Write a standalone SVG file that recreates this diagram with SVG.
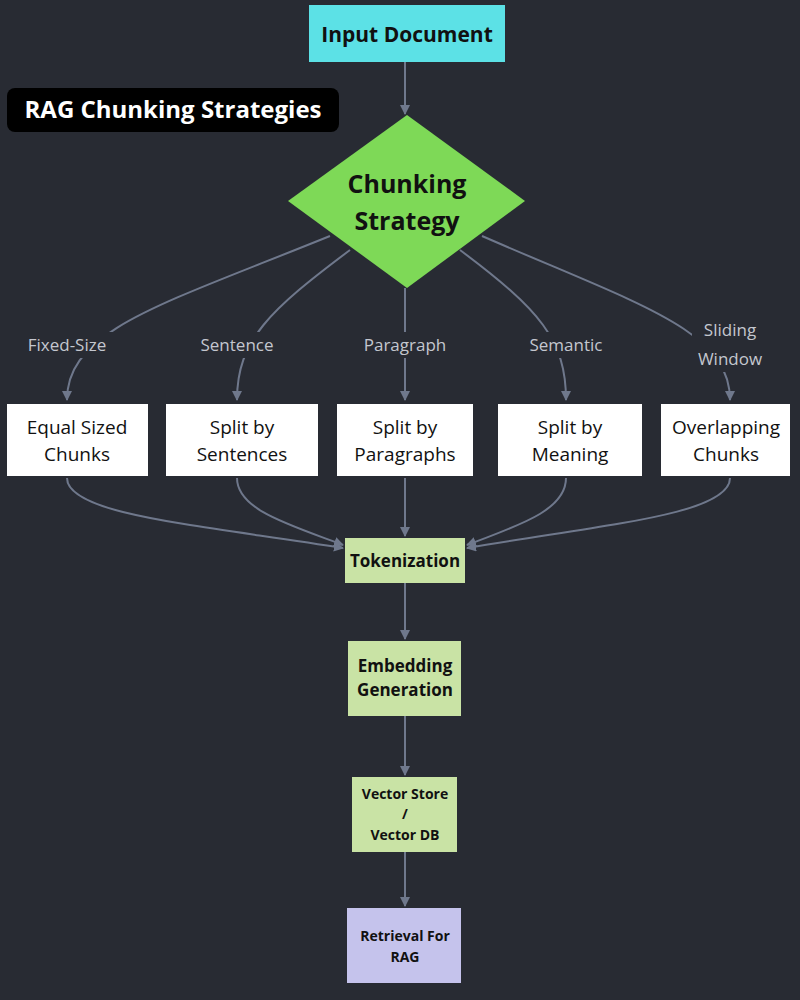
<svg xmlns="http://www.w3.org/2000/svg" width="800" height="1000" viewBox="0 0 800 1000">
<defs>
<marker id="ah" markerWidth="10" markerHeight="10" refX="9" refY="5" orient="auto" markerUnits="userSpaceOnUse" viewBox="0 0 10 10"><path d="M0,0 L10,5 L0,10 z" fill="#6f788c"/></marker>
<style>
.e{fill:none;stroke:#6f788c;stroke-width:2;marker-end:url(#ah)}
.lbl{font-family:"Open Sans","Liberation Sans",sans-serif;font-size:17px;fill:#c4c7cf;text-anchor:middle}
.lb{fill:#282b33}
.wb{fill:#ffffff}
.wt{font-family:"Open Sans","Liberation Sans",sans-serif;font-size:19px;fill:#111;text-anchor:middle}
.bt{font-family:"Open Sans","Liberation Sans",sans-serif;font-weight:bold;fill:#111;text-anchor:middle}
</style>
</defs>
<rect width="800" height="1000" fill="#282b33"/>
<g id="connectors">
<path class="e" d="M405,62 L405,114"/>
<path class="e" d="M330,236 C160,305 67,330 67,400"/>
<path class="e" d="M350,250 C270,310 237,340 237,400"/>
<path class="e" d="M405,288 L405,400"/>
<path class="e" d="M460,250 C540,310 566,340 566,400"/>
<path class="e" d="M482,236 C640,305 730,330 730,400"/>
<path class="e" d="M67,478 C67,515 200,525 343,548"/>
<path class="e" d="M237,478 C237,510 290,525 343,545"/>
<path class="e" d="M405,478 L405,536"/>
<path class="e" d="M566,478 C566,510 520,525 467,545"/>
<path class="e" d="M730,478 C730,515 600,525 467,548"/>
<path class="e" d="M405,583 L405,639"/>
<path class="e" d="M405,716 L405,775"/>
<path class="e" d="M405,852 L405,906"/>
</g>
<g id="edge-labels">
<rect class="lb" x="18" y="332" width="98" height="26"/><text class="lbl" x="67" y="351">Fixed-Size</text>
<rect class="lb" x="192" y="332" width="90" height="26"/><text class="lbl" x="237" y="351">Sentence</text>
<rect class="lb" x="356" y="332" width="98" height="26"/><text class="lbl" x="405" y="351">Paragraph</text>
<rect class="lb" x="522" y="332" width="88" height="26"/><text class="lbl" x="566" y="351">Semantic</text>
<rect class="lb" x="692" y="318" width="76" height="54"/><text class="lbl" x="730" y="336">Sliding</text><text class="lbl" x="730" y="365">Window</text>
</g>
<g id="title"><rect x="7" y="88" width="332" height="44" rx="8" fill="#000"/><text class="bt" x="173" y="118" font-size="24" fill="#fff" style="fill:#fff">RAG Chunking Strategies</text></g>
<g id="input"><rect x="309" y="5" width="196" height="57" fill="#5ce1e6"/><text class="bt" x="407" y="42" font-size="21">Input Document</text></g>
<g id="strategy"><polygon points="407,115 525,201 407,288 288,201" fill="#7ed957"/><text class="bt" x="407" y="193" font-size="25">Chunking</text><text class="bt" x="407" y="230" font-size="25">Strategy</text></g>
<g id="n1"><rect class="wb" x="7" y="404" width="141" height="72"/><text class="wt" x="77" y="434">Equal Sized</text><text class="wt" x="77" y="461">Chunks</text></g>
<g id="n2"><rect class="wb" x="166" y="404" width="152" height="72"/><text class="wt" x="242" y="434">Split by</text><text class="wt" x="242" y="461">Sentences</text></g>
<g id="n3"><rect class="wb" x="337" y="404" width="136" height="72"/><text class="wt" x="405" y="434">Split by</text><text class="wt" x="405" y="461">Paragraphs</text></g>
<g id="n4"><rect class="wb" x="498" y="404" width="144" height="72"/><text class="wt" x="570" y="434">Split by</text><text class="wt" x="570" y="461">Meaning</text></g>
<g id="n5"><rect class="wb" x="661" y="404" width="129" height="72"/><text class="wt" x="726" y="434">Overlapping</text><text class="wt" x="726" y="461">Chunks</text></g>
<g id="tok"><rect x="345" y="538" width="120" height="45" fill="#c9e3a5"/><text class="bt" x="405" y="567" font-size="17">Tokenization</text></g>
<g id="emb"><rect x="348" y="641" width="113" height="75" fill="#c9e3a5"/><text class="bt" x="405" y="672" font-size="17">Embedding</text><text class="bt" x="405" y="696" font-size="17">Generation</text></g>
<g id="vec"><rect x="352" y="777" width="105" height="75" fill="#c9e3a5"/><text class="bt" x="405" y="799" font-size="14">Vector Store</text><text class="bt" x="405" y="819" font-size="14">/</text><text class="bt" x="405" y="840" font-size="14">Vector DB</text></g>
<g id="ret"><rect x="347" y="908" width="114" height="75" fill="#c5c3ec"/><text class="bt" x="405" y="941" font-size="14">Retrieval For</text><text class="bt" x="405" y="962" font-size="14">RAG</text></g>
</svg>
